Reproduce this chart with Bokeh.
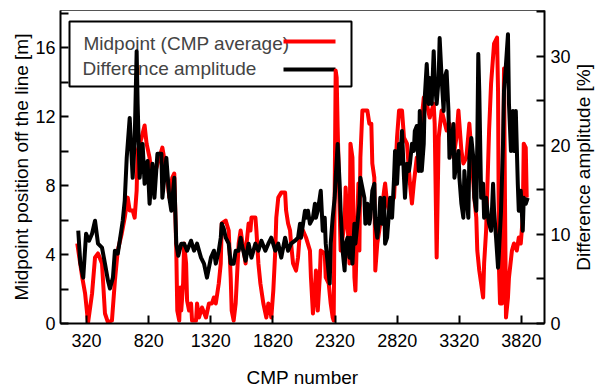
import math
from bokeh.plotting import figure
from bokeh.models import Range1d, LinearAxis, FixedTicker, Label, BoxAnnotation, Arrow
from bokeh.embed import file_html
from bokeh.resources import INLINE

# ---- data ----
cmp_mid = [245, 285, 308, 332, 364, 388, 412, 444, 468, 492, 524, 548, 571, 603, 627, 651, 667, 691,
           707, 723, 731, 763, 787, 803, 827, 850, 882, 906, 930, 962, 986, 1010, 1026, 1042, 1050,
           1066, 1074, 1082, 1097, 1105, 1121, 1129, 1145, 1161, 1169, 1201, 1209, 1225, 1249, 1281,
           1305, 1329, 1345, 1360, 1384, 1400, 1408, 1440, 1464, 1480, 1488, 1504, 1520, 1544, 1560,
           1584, 1600, 1608, 1624, 1639, 1647, 1679, 1687, 1703, 1719, 1743, 1767, 1783, 1799, 1807,
           1823, 1839, 1847, 1863, 1887, 1918, 1926, 1942, 1958, 1966, 1982, 2006, 2022, 2038, 2062,
           2086, 2118, 2126, 2142, 2158, 2166, 2181, 2197, 2205, 2237, 2245, 2269, 2285, 2301, 2309,
           2325, 2333, 2341, 2357, 2365, 2397, 2405, 2421, 2436, 2444, 2460, 2476, 2484, 2500, 2508,
           2516, 2524, 2540, 2580, 2596, 2612, 2620, 2636, 2644, 2660, 2676, 2684, 2715, 2723, 2739,
           2755, 2763, 2795, 2819, 2835, 2859, 2875, 2899, 2915, 2923, 2939, 2954, 2978, 2986, 3002,
           3034, 3058, 3082, 3114, 3122, 3138, 3154, 3178, 3218, 3241, 3273, 3297, 3313, 3321, 3337,
           3353, 3377, 3401, 3417, 3441, 3457, 3465, 3481, 3496, 3512, 3520, 3536, 3552, 3560, 3576,
           3600, 3624, 3632, 3640, 3648, 3664, 3680, 3688, 3696, 3712, 3720, 3744, 3760, 3783, 3799,
           3815, 3831, 3839, 3855, 3863]
midpoint = [4.64, 2.67, 1.74, 0.06, 1.74, 3.83, 4.06, 3.48, 0.58, 0.06, 0.17, 2.49, 4.23, 5.22, 6.14,
            7.30, 6.55, 6.55, 6.14, 7.71, 10.03, 10.78, 11.48, 10.43, 9.62, 8.12, 9.04, 9.62, 10.20,
            8.87, 7.30, 8.46, 8.70, 4.23, 0.75, 0.17, 2.09, 0.75, 2.32, 4.64, 3.48, 1.33, 0.75, 1.16,
            0.17, 0.17, 1.16, 0.35, 0.93, 0.35, 1.16, 1.16, 1.51, 1.16, 2.32, 3.48, 5.80, 5.97, 5.39,
            2.67, 0.75, 0.17, 1.16, 4.64, 5.39, 4.23, 3.48, 4.64, 5.80, 5.39, 6.14, 6.14, 5.39, 3.48,
            2.32, 1.16, 0.35, 1.16, 0.75, 0.35, 1.91, 4.23, 6.14, 7.30, 7.59, 7.59, 6.55, 5.80, 5.39,
            4.64, 3.48, 3.07, 3.83, 5.39, 5.39, 4.99, 4.23, 2.67, 0.58, 1.91, 3.07, 0.75, 2.67, 4.23,
            4.06, 2.67, 2.32, 1.16, 0.35, 0.17, 14.67, 14.26, 11.36, 6.55, 4.23, 5.80, 7.88, 5.80,
            3.48, 10.43, 9.62, 2.67, 1.91, 6.14, 8.12, 4.23, 9.62, 12.35, 12.35, 11.59, 11.59, 9.28,
            8.46, 3.07, 4.64, 5.39, 5.80, 7.71, 8.12, 6.96, 6.55, 6.96, 7.30, 10.78, 12.35, 12.35,
            10.78, 10.43, 8.87, 8.12, 6.96, 8.12, 9.62, 9.28, 10.78, 13.10, 12.75, 11.94, 12.75, 11.59,
            3.83, 10.78, 12.35, 11.19, 11.59, 9.62, 10.78, 12.35, 11.59, 10.03, 9.28, 9.62, 11.59,
            10.03, 7.30, 6.14, 4.23, 3.07, 2.32, 1.51, 3.48, 5.39, 9.28, 11.19, 13.91, 16.23, 16.58,
            13.51, 3.07, 1.16, 1.16, 14.78, 7.13, 0.35, 1.51, 2.67, 4.23, 4.64, 4.23, 4.99, 4.64,
            6.14, 10.43, 10.20, 7.30]

cmp_amp = [253, 269, 293, 316, 340, 364, 388, 412, 444, 468, 492, 508, 532, 548, 571, 587, 611, 627,
           643, 667, 691, 707, 723, 731, 747, 771, 787, 811, 827, 850, 866, 890, 922, 930, 962, 986,
           1002, 1026, 1042, 1058, 1082, 1105, 1129, 1161, 1185, 1209, 1241, 1265, 1289, 1321, 1345,
           1360, 1384, 1400, 1408, 1424, 1440, 1464, 1480, 1504, 1520, 1544, 1560, 1568, 1600, 1624,
           1647, 1679, 1703, 1727, 1759, 1783, 1807, 1839, 1863, 1887, 1918, 1942, 1966, 1998, 2022,
           2038, 2046, 2078, 2086, 2102, 2118, 2142, 2158, 2166, 2181, 2197, 2205, 2221, 2237, 2245,
           2261, 2277, 2285, 2301, 2317, 2325, 2341, 2357, 2365, 2381, 2397, 2405, 2421, 2436, 2444,
           2460, 2476, 2484, 2500, 2516, 2524, 2556, 2564, 2580, 2596, 2604, 2620, 2636, 2644, 2660,
           2676, 2684, 2700, 2715, 2723, 2739, 2755, 2763, 2779, 2795, 2803, 2819, 2835, 2843, 2859,
           2875, 2883, 2899, 2915, 2923, 2939, 2954, 2962, 2978, 2994, 3002, 3018, 3034, 3042, 3058,
           3074, 3082, 3098, 3114, 3122, 3138, 3154, 3162, 3178, 3194, 3202, 3218, 3233, 3241, 3257,
           3273, 3281, 3297, 3313, 3321, 3337, 3353, 3361, 3377, 3393, 3401, 3417, 3433, 3441, 3457,
           3465, 3473, 3481, 3496, 3512, 3520, 3536, 3552, 3560, 3576, 3592, 3600, 3616, 3632, 3640,
           3656, 3672, 3680, 3696, 3712, 3720, 3736, 3752, 3760, 3775, 3791, 3799, 3815, 3831, 3839,
           3855, 3871]
amplitude = [10.41, 6.83, 5.15, 10.08, 9.29, 10.08, 11.53, 8.96, 8.51, 6.72, 4.82, 3.92, 5.15, 8.17,
             7.84, 9.29, 11.53, 13.77, 18.59, 23.07, 16.35, 20.49, 30.57, 24.64, 16.35, 20.16, 15.68,
             18.25, 13.44, 17.92, 14.11, 19.04, 19.04, 14.11, 18.59, 14.11, 12.65, 16.35, 8.96, 7.61,
             8.96, 8.96, 8.17, 9.29, 8.17, 8.96, 7.39, 6.72, 5.15, 7.39, 8.17, 6.72, 8.17, 9.63, 11.20,
             10.64, 9.63, 8.96, 6.72, 6.72, 8.17, 8.17, 9.63, 8.96, 7.05, 8.96, 7.39, 8.96, 8.17, 9.29,
             8.17, 8.96, 9.63, 8.17, 8.96, 7.39, 9.63, 8.17, 8.96, 9.29, 9.63, 11.20, 9.63, 12.65,
             11.87, 12.65, 11.20, 11.87, 13.44, 11.87, 12.65, 14.11, 14.89, 10.41, 11.87, 8.96, 6.72,
             4.48, 8.96, 11.87, 14.11, 16.35, 20.16, 15.68, 12.65, 8.17, 5.94, 8.96, 9.63, 7.39, 9.63,
             6.72, 11.20, 8.96, 11.20, 13.44, 16.35, 14.11, 11.20, 13.44, 11.20, 11.87, 14.89, 15.68,
             11.20, 9.63, 11.87, 14.11, 11.20, 14.11, 8.96, 9.63, 12.65, 14.11, 11.87, 16.35, 19.37,
             15.68, 20.16, 17.92, 21.61, 16.35, 14.11, 17.92, 17.13, 17.92, 20.16, 19.37, 21.61, 22.17,
             17.13, 23.85, 17.13, 20.16, 25.31, 29.12, 24.64, 27.55, 24.64, 30.57, 27.55, 24.64, 27.55,
             32.03, 27.55, 23.85, 27.55, 28.33, 23.85, 18.59, 20.16, 22.40, 16.35, 17.92, 19.37, 16.35,
             13.44, 11.87, 17.13, 14.11, 11.87, 18.59, 20.83, 18.59, 14.11, 12.65, 20.16, 30.24, 26.09,
             14.11, 15.68, 11.87, 14.11, 11.87, 11.20, 10.41, 15.68, 12.65, 9.63, 6.27, 8.17, 12.65,
             20.16, 26.09, 29.12, 32.47, 24.64, 19.37, 23.85, 19.37, 23.85, 15.68, 12.65, 14.89, 10.41,
             14.11, 13.44, 14.11]

x_ticks = [320, 820, 1320, 1820, 2320, 2820, 3320, 3820]
left_ticks = [0, 2, 4, 6, 8, 10, 12, 14, 16, 18]
left_hidden = [2, 6, 10, 14, 18]
right_ticks = [0, 5, 10, 15, 20, 25, 30, 35]
right_hidden = [5, 15, 25, 35]

FONT = "Liberation Sans"
RIGHT_TITLE = "Difference amplitude [%]"

p = figure(width=607, height=392, output_backend="svg", toolbar_location=None,
           x_range=Range1d(110, 4006), y_range=Range1d(0, 18.15),
           min_border_left=60, min_border_right=58, min_border_top=10, min_border_bottom=69,
           x_axis_label="CMP number", y_axis_label="Midpoint position off the line [m]")
p.extra_y_ranges = {"amp": Range1d(0, 35.13)}
p.grid.visible = False
p.outline_line_color = "#555555"
p.outline_line_width = 1
p.background_fill_color = "white"
p.border_fill_color = "white"

p.line(cmp_mid, midpoint, line_color="#ff0000", line_width=4, line_join="round")
p.line(cmp_amp, amplitude, line_color="black", line_width=4, line_join="round", y_range_name="amp")

right = LinearAxis(y_range_name="amp")
p.add_layout(right, "right")
props = right.properties()
if "axis_label_orientation" in props and "axis_label_align" in props:
    # read bottom-to-top, anchored at the bottom of the axis; padding lifts it to the centre
    right.axis_label = "\u00a0" * 10 + RIGHT_TITLE
    right.axis_label_orientation = math.pi / 2
    right.axis_label_align = "start"
else:
    right.axis_label = RIGHT_TITLE

p.xaxis.ticker = FixedTicker(ticks=x_ticks, minor_ticks=[])
p.yaxis[0].ticker = FixedTicker(ticks=left_ticks, minor_ticks=[])
p.yaxis[0].major_label_overrides = {t: "" for t in left_hidden}
right.ticker = FixedTicker(ticks=right_ticks, minor_ticks=[])
right.major_label_overrides = {t: "" for t in right_hidden}

for ax in [p.xaxis[0], p.yaxis[0], right]:
    ax.axis_line_color = "black"
    ax.axis_line_width = 2
    ax.major_tick_line_color = "black"
    ax.major_tick_line_width = 2
    ax.major_tick_in = 8
    ax.major_tick_out = 0
    ax.minor_tick_line_color = None
    ax.major_label_text_font = FONT
    ax.major_label_text_font_size = "18px"
    ax.major_label_text_color = "black"
    ax.axis_label_text_font = FONT
    ax.axis_label_text_font_size = "19px"
    ax.axis_label_text_font_style = "normal"
    ax.axis_label_text_color = "black"

p.xaxis.major_label_standoff = 10
p.xaxis.axis_label_standoff = 17
p.yaxis[0].major_label_standoff = 5
p.yaxis[0].axis_label_standoff = 0
right.major_label_standoff = 6
right.axis_label_standoff = 10

# legend (gnuplot style: text left, sample right), drawn beneath the curves
p.add_layout(BoxAnnotation(left=9, right=291, top=302, bottom=237,
                           left_units="screen", right_units="screen",
                           top_units="screen", bottom_units="screen",
                           fill_alpha=0, line_color="black", line_alpha=1, line_width=2,
                           level="underlay"))
p.add_layout(Label(x=23, y=280, x_units="screen", y_units="screen", text="Midpoint (CMP average)",
                   text_baseline="middle", text_font=FONT, text_font_size="19px", level="underlay"))
p.add_layout(Label(x=22, y=255, x_units="screen", y_units="screen", text="Difference amplitude",
                   text_baseline="middle", text_font=FONT, text_font_size="19px", level="underlay"))
p.add_layout(Arrow(end=None, x_start=223, y_start=282, x_end=275, y_end=282,
                   start_units="screen", end_units="screen",
                   line_color="#ff0000", line_width=4, level="underlay"))
p.add_layout(Arrow(end=None, x_start=223, y_start=254, x_end=275, y_end=254,
                   start_units="screen", end_units="screen",
                   line_color="black", line_width=4, level="underlay"))

open("out.html", "w").write(file_html(p, INLINE))
